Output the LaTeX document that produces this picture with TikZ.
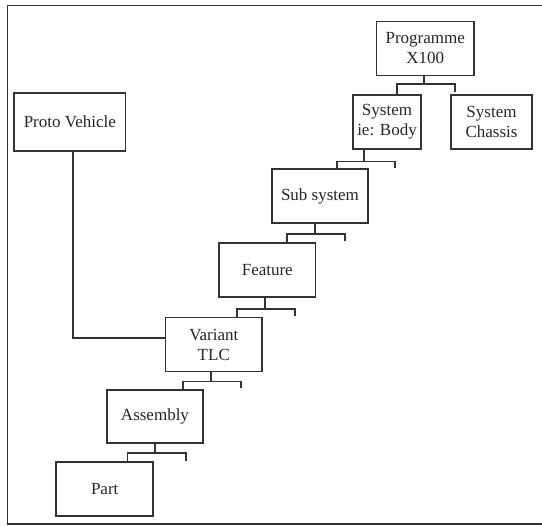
\documentclass[tikz,border=0pt]{standalone}
\usepackage{fontspec}
\setmainfont{Liberation Serif}
\begin{document}
\begin{tikzpicture}[x=1pt,y=-1pt,
  line width=1.6pt, draw=black!80,
  box/.style={draw=black!80, line width=1.6pt, inner sep=0pt, align=center,
    font=\fontsize{17}{20}\selectfont, text=black!85},
  conn/.style={draw=black!80, line width=1.6pt}]
\useasboundingbox (0,0) rectangle (542,526);
\clip (0,0) rectangle (542,526);
\draw[line width=1.6pt] (560,5.5) -- (7.5,5.5) -- (7.5,524) -- (560,524);

\node[box, minimum width=97.5pt, minimum height=54pt] (prog) at (425.25,48.5) {Programme\\X100};
\node[box, minimum width=68pt, minimum height=54pt] (body) at (387,122) {System\\ie: Body};
\node[box, minimum width=81pt, minimum height=54pt] (chassis) at (491.5,122) {System\\Chassis};
\node[box, minimum width=96pt, minimum height=54pt] (sub) at (320,196) {Sub system};
\node[box, minimum width=96.5pt, minimum height=54pt] (feat) at (267.3,270) {Feature};
\node[box, minimum width=96.5pt, minimum height=54pt] (var) at (213.8,344.5) {Variant\\TLC};
\node[box, minimum width=96.5pt, minimum height=53pt] (asm) at (155,416.3) {Assembly};
\node[box, minimum width=97pt, minimum height=54pt] (part) at (104.7,489) {Part};
\node[box, minimum width=111.5pt, minimum height=58pt] (proto) at (69.8,121.8) {Proto Vehicle};

% prog -> body
\coordinate (j1) at (424,84);  \coordinate (l1) at (396.7,84); \coordinate (r1) at (455,92);
\draw[conn] (prog.south -| j1) -- (j1);
\draw[conn] (body.north -| l1) |- (r1 |- l1) -- (r1);
% body -> sub
\coordinate (j2) at (364,161.5); \coordinate (l2) at (337,161.5); \coordinate (r2) at (395,168);
\draw[conn] (body.south -| j2) -- (j2);
\draw[conn] (sub.north -| l2) |- (r2 |- l2) -- (r2);
% sub -> feat
\coordinate (j3) at (315,234); \coordinate (l3) at (286.7,234); \coordinate (r3) at (345,241);
\draw[conn] (sub.south -| j3) -- (j3);
\draw[conn] (feat.north -| l3) |- (r3 |- l3) -- (r3);
% feat -> var
\coordinate (j4) at (265,309); \coordinate (l4) at (236.7,309); \coordinate (r4) at (295,316);
\draw[conn] (feat.south -| j4) -- (j4);
\draw[conn] (var.north -| l4) |- (r4 |- l4) -- (r4);
% var -> asm
\coordinate (j5) at (210.7,381.7); \coordinate (l5) at (182.7,381.7); \coordinate (r5) at (241,388.5);
\draw[conn] (var.south -| j5) -- (j5);
\draw[conn] (asm.north -| l5) |- (r5 |- l5) -- (r5);
% asm -> part
\coordinate (j6) at (155,453.3); \coordinate (l6) at (127.3,453.3); \coordinate (r6) at (185.7,460.7);
\draw[conn] (asm.south -| j6) -- (j6);
\draw[conn] (part.north -| l6) |- (r6 |- l6) -- (r6);
% proto -> var
\coordinate (p1) at (72.7,338);
\draw[conn] (proto.south -| p1) |- (var.west |- p1);
\end{tikzpicture}
\end{document}
